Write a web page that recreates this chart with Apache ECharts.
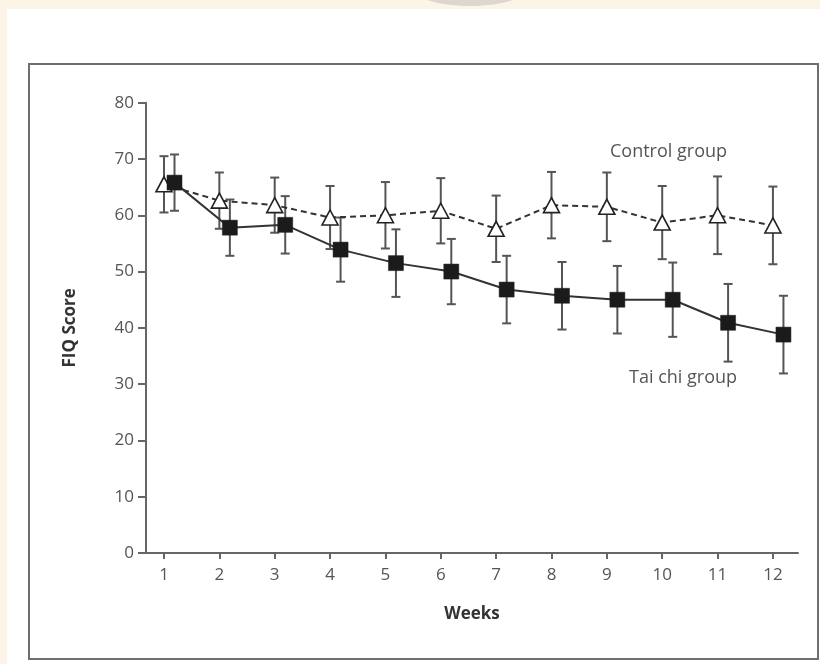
<!DOCTYPE html>
<html>
<head>
<meta charset="utf-8">
<script src="https://cdn.jsdelivr.net/npm/echarts@6/dist/echarts.min.js"></script>
<style>
html,body{margin:0;padding:0;background:#fdf4e8;}
#chart{width:820px;height:664px;}
</style>
</head>
<body>
<div id="chart"></div>
<script>
// ---- data ----
const weeks = [1,2,3,4,5,6,7,8,9,10,11,12];
const controlMean = [65.5,62.6,61.8,59.6,60.0,60.8,57.6,61.8,61.5,58.7,60.0,58.2];
const controlErr  = [5.0,5.0,4.9,5.6,5.9,5.8,5.9,5.9,6.1,6.5,6.9,6.9];
const taichiMean  = [65.8,57.8,58.3,53.9,51.5,50.0,46.8,45.7,45.0,45.0,40.9,38.8];
const taichiErr   = [5.0,5.0,5.1,5.7,6.0,5.8,6.0,6.0,6.0,6.6,6.9,6.9];
const yTicks = [0,10,20,30,40,50,60,70,80];
const xTicks = weeks;
const controlLabel = 'Control group';
const taichiLabel = 'Tai chi group';
const xTitle = 'Weeks';
const yTitle = 'FIQ Score';

const DODGE = 0.19; // horizontal offset of the tai chi markers (weeks)
const FONT = '"Open Sans", "DejaVu Sans", sans-serif';

const ctrlPts = weeks.map((w,i)=>[w, controlMean[i]]);
const taiPts  = weeks.map((w,i)=>[w + DODGE, taichiMean[i]]);
const ctrlBars = weeks.map((w,i)=>[w, controlMean[i]-controlErr[i], controlMean[i]+controlErr[i]]);
const taiBars  = weeks.map((w,i)=>[w + DODGE, taichiMean[i]-taichiErr[i], taichiMean[i]+taichiErr[i]]);

function errRender(params, api){
  const x = api.value(0);
  const lo = api.coord([x, api.value(1)]);
  const hi = api.coord([x, api.value(2)]);
  const h = 4.5;
  const st = {stroke:'#555', lineWidth:2};
  return {type:'group', children:[
    {type:'line', shape:{x1:lo[0],y1:lo[1],x2:hi[0],y2:hi[1]}, style:st},
    {type:'line', shape:{x1:hi[0]-h,y1:hi[1],x2:hi[0]+h,y2:hi[1]}, style:st},
    {type:'line', shape:{x1:lo[0]-h,y1:lo[1],x2:lo[0]+h,y2:lo[1]}, style:st}
  ]};
}

const chart = echarts.init(document.getElementById('chart'), null, {renderer:'canvas'});
chart.setOption({
  backgroundColor:'#fdf4e8',
  animation:false,
  graphic:[
    {type:'ellipse', z:-20, shape:{cx:470, cy:-14, rx:60, ry:20},
     style:{fill:'rgba(160,160,160,0.35)'}},
    {type:'rect', z:-10, shape:{x:7, y:9, width:813, height:655}, style:{fill:'#ffffff'}},
    {type:'rect', z:-5, shape:{x:29, y:64, width:789, height:595},
     style:{fill:'none', stroke:'#6e6e6e', lineWidth:2}},
    {type:'text', z:10, left:610, top:143,
     style:{text:controlLabel, font:'18px ' + FONT, fill:'#555'}},
    {type:'text', z:10, left:629, top:369,
     style:{text:taichiLabel, font:'18px ' + FONT, fill:'#555'}}
  ],
  grid:{left:146, right:22, top:102.7, bottom:111, containLabel:false},
  xAxis:{
    type:'value', min:0.675, max:12.453,
    name:xTitle, nameLocation:'middle', nameGap:53,
    nameTextStyle:{fontFamily:FONT, fontWeight:'bold', fontSize:17, color:'#333'},
    axisLine:{show:true, lineStyle:{color:'#666', width:2}},
    axisTick:{show:true, customValues:xTicks, length:6, inside:false, lineStyle:{color:'#666', width:2}},
    axisLabel:{customValues:xTicks, margin:14, fontFamily:FONT, fontSize:17, color:'#555'},
    splitLine:{show:false}
  },
  yAxis:{
    type:'value', min:0, max:80, interval:10,
    name:yTitle, nameLocation:'middle', nameGap:67, nameRotate:90,
    nameTextStyle:{fontFamily:FONT, fontWeight:'bold', fontSize:17, color:'#333'},
    axisLine:{show:true, lineStyle:{color:'#666', width:2}},
    axisTick:{show:true, length:8, lineStyle:{color:'#666', width:2}},
    axisLabel:{margin:12, fontFamily:FONT, fontSize:17, color:'#555'},
    splitLine:{show:false}
  },
  series:[
    {type:'custom', name:'ctrlErr', renderItem:errRender, data:ctrlBars, z:1, encode:{x:0,y:[1,2]}},
    {type:'custom', name:'taiErr', renderItem:errRender, data:taiBars, z:1, encode:{x:0,y:[1,2]}},
    {type:'line', name:controlLabel, data:ctrlPts, z:3,
     symbol:'triangle', symbolSize:[16,15], showAllSymbol:true,
     lineStyle:{color:'#333', width:2, type:[6,4]},
     itemStyle:{color:'#ffffff', borderColor:'#222', borderWidth:1.6}},
    {type:'line', name:taichiLabel, data:taiPts, z:4,
     symbol:'rect', symbolSize:15, showAllSymbol:true,
     lineStyle:{color:'#333', width:2},
     itemStyle:{color:'#1b1b1b', borderColor:'#1b1b1b', borderWidth:0.5}}
  ]
});
</script>
</body>
</html>
